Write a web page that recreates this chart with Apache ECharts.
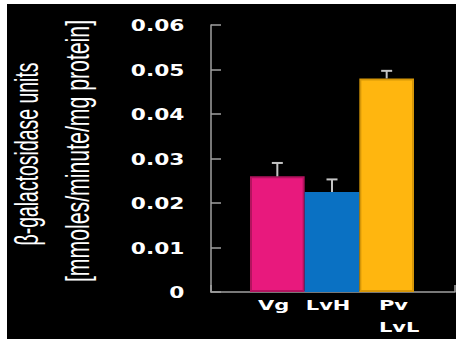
<!DOCTYPE html>
<html><head><meta charset="utf-8">
<script src="https://cdn.jsdelivr.net/npm/echarts@6/dist/echarts.min.js"></script>
<style>
html,body{margin:0;padding:0;background:#fff;width:456px;height:341px;overflow:hidden}
#c{position:absolute;left:7px;top:4px;width:449px;height:335px;background:#000}
</style></head>
<body><div id="c"></div>
<script>
const categories = ['Vg', 'LvH', 'Pv\nLvL'];
const values = [0.026, 0.0225, 0.048];
const errorTops = [0.029, 0.0253, 0.0497];
const yTicks = [0, 0.01, 0.02, 0.03, 0.04, 0.05, 0.06];
const yTickLabels = ['0', '0.01', '0.02', '0.03', '0.04', '0.05', '0.06'];
const titleLines = ['β-galactosidase units', '[mmoles/minute/mg protein]'];
const barColors = ['#E8197D', '#0A71C3', '#FFB60F'];
const barBorders = ['#B3135F', '#0A71C3', '#D69708'];

const axisColor = '#a0a0a0';
const chart = echarts.init(document.getElementById('c'), null, {renderer: 'svg'});
const option = {
  animation: false,
  backgroundColor: '#000',
  grid: [
    {left: 204, right: 1, top: 21, bottom: 47},
    {left: 243, right: 42, top: 21, bottom: 47}
  ],
  xAxis: [
    {gridIndex: 0, type: 'value', min: 0, max: 1, interval: 1,
     axisLine: {show: true, lineStyle: {color: axisColor, width: 1.5}},
     axisTick: {show: true, inside: true, length: 7, lineStyle: {color: axisColor, width: 1.5}},
     axisLabel: {show: false}, splitLine: {show: false}},
    {gridIndex: 1, type: 'category', data: categories,
     axisLine: {show: false}, axisTick: {show: false}, axisLabel: {show: false}}
  ],
  yAxis: [
    {gridIndex: 0, type: 'value', min: 0, max: 0.06, interval: 0.01,
     axisLine: {show: true, lineStyle: {color: axisColor, width: 1.5}},
     axisTick: {show: true, inside: true, length: 10, lineStyle: {color: axisColor, width: 1.5}},
     axisLabel: {show: false}, splitLine: {show: false}},
    {gridIndex: 1, type: 'value', min: 0, max: 0.06, interval: 0.01, show: false}
  ],
  series: [
    {type: 'bar', xAxisIndex: 1, yAxisIndex: 1, barCategoryGap: '0%',
     data: values.map((v, i) => ({value: v, itemStyle: {color: barColors[i], borderColor: barBorders[i], borderWidth: 2}}))},
    {type: 'custom', xAxisIndex: 1, yAxisIndex: 1, z: 5,
     data: values.map((v, i) => [i, v, errorTops[i]]),
     renderItem: function (params, api) {
       const i = api.value(0);
       const base = api.coord([i, api.value(1)]);
       const top = api.coord([i, api.value(2)]);
       const st = {stroke: '#c4c4c4', lineWidth: 2};
       return {type: 'group', children: [
         {type: 'line', shape: {x1: base[0], y1: base[1], x2: top[0], y2: top[1]}, style: st},
         {type: 'line', shape: {x1: top[0] - 5.5, y1: top[1], x2: top[0] + 5.5, y2: top[1]}, style: st}
       ]};
     }}
  ]
};
chart.setOption(option);

// text overlays (scaled to mimic the reference typefaces)
const g = [];
yTicks.forEach((v, i) => {
  const py = chart.convertToPixel({yAxisIndex: 0}, v);
  g.push({type: 'text', x: 177.5, y: py + 1, scaleX: 1.45, z: 10,
    style: {text: yTickLabels[i], fill: '#fff', fontSize: 15, fontWeight: 'bold', fontFamily: 'DejaVu Sans', align: 'right', verticalAlign: 'middle'}});
});
const catDx = [-19.4, -26.2, -7.7];
categories.forEach((c, i) => {
  const px = chart.convertToPixel({xAxisIndex: 1}, c);
  g.push({type: 'text', x: px + catDx[i], y: 290, scaleX: 1.5, z: 10,
    style: {text: c, fill: '#fff', fontSize: 14, fontWeight: 'bold', fontFamily: 'DejaVu Sans', align: 'left', verticalAlign: 'top', lineHeight: 22}});
});
const ctx = document.createElement('canvas').getContext('2d');
const tfs = 34;
ctx.font = tfs + 'px "Liberation Sans"';
const titlePos = [[19, 150, 183], [70, 147, 262]];
titleLines.forEach((t, i) => {
  const w = ctx.measureText(t).width;
  g.push({type: 'text', x: titlePos[i][0], y: titlePos[i][1], rotation: Math.PI / 2, scaleX: titlePos[i][2] / w, z: 10,
    style: {text: t, fill: '#fff', fontSize: tfs, fontFamily: 'Liberation Sans', align: 'center', verticalAlign: 'middle'}});
});
chart.setOption({graphic: g});
</script>
</body></html>
